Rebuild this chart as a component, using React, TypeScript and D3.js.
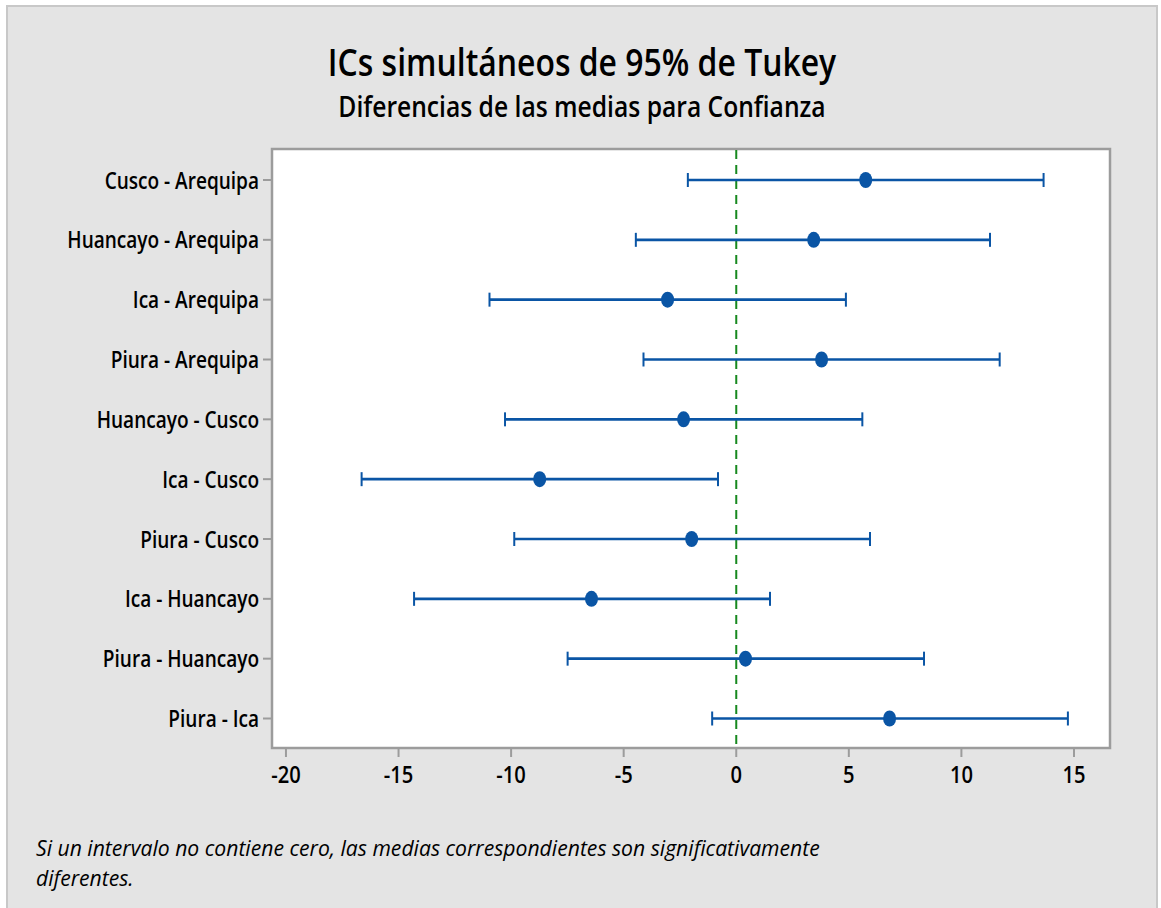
import React from 'react';
import * as d3 from 'd3';

// Tukey simultaneous 95% CIs
const comparisons = [
  'Cusco - Arequipa',
  'Huancayo - Arequipa',
  'Ica - Arequipa',
  'Piura - Arequipa',
  'Huancayo - Cusco',
  'Ica - Cusco',
  'Piura - Cusco',
  'Ica - Huancayo',
  'Piura - Huancayo',
  'Piura - Ica',
];
const lower = [-2.15, -4.46, -10.96, -4.12, -10.27, -16.64, -9.86, -14.31, -7.49, -1.07];
const center = [5.75, 3.44, -3.05, 3.79, -2.34, -8.73, -1.98, -6.43, 0.41, 6.81];
const upper = [13.65, 11.27, 4.87, 11.7, 5.6, -0.81, 5.94, 1.5, 8.34, 14.73];

const xTicks = [-20, -15, -10, -5, 0, 5, 10, 15];

const title = 'ICs simultáneos de 95% de Tukey';
const subtitle = 'Diferencias de las medias para Confianza';
const footnote = [
  'Si un intervalo no contiene cero, las medias correspondientes son significativamente',
  'diferentes.',
];

const W = 1161;
const H = 908;
const SX = 0.84; // the source picture is horizontally squeezed
const FONT = '"Open Sans", "Noto Sans", sans-serif';
const BLUE = '#0a55a5';
const GRID = '#9c9c9c';

const plot = { left: 272, right: 1110, top: 149, bottom: 748 };

const Txt: React.FC<{
  x: number;
  y: number;
  size: number;
  anchor?: 'start' | 'middle' | 'end';
  weight?: number;
  italic?: boolean;
  sx?: number;
  children: React.ReactNode;
}> = ({ x, y, size, anchor = 'start', weight = 600, italic = false, sx = SX, children }) => (
  <text
    transform={`translate(${x},${y}) scale(${sx},1)`}
    fontFamily={FONT}
    fontSize={size}
    fontWeight={weight}
    fontStyle={italic ? 'italic' : 'normal'}
    textAnchor={anchor}
    fill="#000"
  >
    {children}
  </text>
);

export default function App() {
  const x = d3.scaleLinear().domain([-20.62, 16.6]).range([plot.left, plot.right]);
  const y = d3
    .scalePoint<string>()
    .domain(comparisons)
    .range([180, 718.5]);

  const rows = comparisons.map((c, i) => ({ c, lo: lower[i], mid: center[i], hi: upper[i] }));

  return (
    <svg
      width={W}
      height={H}
      style={{ position: 'absolute', left: 0, top: 0, background: '#fff' }}
    >
      <rect x={7} y={6} width={1150} height={910} fill="#e4e4e4" stroke="#c8c8c8" strokeWidth={2} />

      <Txt x={582} y={76} size={38} anchor="middle">
        {title}
      </Txt>
      <Txt x={582} y={117} size={28} anchor="middle" sx={0.88}>
        {subtitle}
      </Txt>

      {/* plot area */}
      <rect
        x={plot.left}
        y={plot.top}
        width={plot.right - plot.left}
        height={plot.bottom - plot.top}
        fill="#fff"
        stroke={GRID}
        strokeWidth={2.5}
      />

      {/* y axis ticks and labels */}
      {rows.map(r => (
        <g key={r.c}>
          <line x1={263} x2={plot.left} y1={y(r.c)} y2={y(r.c)} stroke={GRID} strokeWidth={2} />
          <Txt x={259} y={(y(r.c) as number) + 8.5} size={23.5} anchor="end" sx={0.81}>
            {r.c}
          </Txt>
        </g>
      ))}

      {/* x axis ticks and labels */}
      {xTicks.map(t => (
        <g key={t}>
          <line x1={x(t)} x2={x(t)} y1={plot.bottom} y2={plot.bottom + 9} stroke={GRID} strokeWidth={2} />
          <Txt x={x(t)} y={783} size={24} anchor="middle">
            {t}
          </Txt>
        </g>
      ))}

      {/* zero reference */}
      <line
        x1={x(0)}
        x2={x(0)}
        y1={plot.top + 1}
        y2={plot.bottom - 1}
        stroke="#17891f"
        strokeWidth={2}
        strokeDasharray="9,6"
      />

      {/* intervals */}
      {rows.map(r => {
        const cy = y(r.c) as number;
        return (
          <g key={r.c} stroke={BLUE} fill={BLUE}>
            <line x1={x(r.lo)} x2={x(r.hi)} y1={cy} y2={cy} strokeWidth={2.7} />
            <line x1={x(r.lo)} x2={x(r.lo)} y1={cy - 7} y2={cy + 7} strokeWidth={2} />
            <line x1={x(r.hi)} x2={x(r.hi)} y1={cy - 7} y2={cy + 7} strokeWidth={2} />
            <ellipse cx={x(r.mid)} cy={cy} rx={6.5} ry={8} stroke="none" />
          </g>
        );
      })}

      {footnote.map((line, i) => (
        <Txt key={i} x={36} y={856 + i * 30} size={22.5} weight={400} italic sx={0.94}>
          {line}
        </Txt>
      ))}
    </svg>
  );
}
